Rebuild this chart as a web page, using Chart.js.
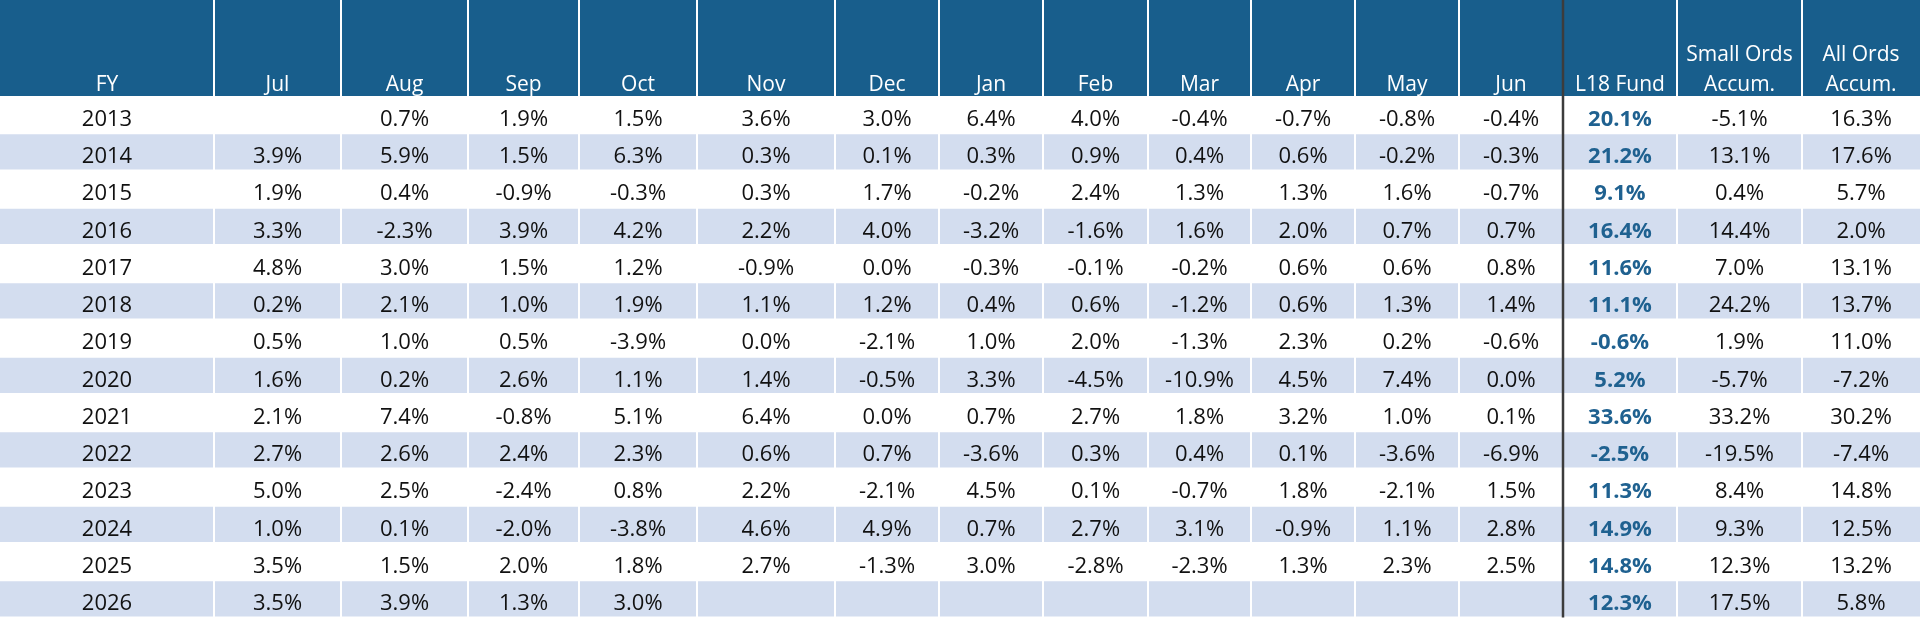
<!DOCTYPE html>
<html>
<head>
<meta charset="utf-8">
<script src="https://cdn.jsdelivr.net/npm/chart.js@4.4.1/dist/chart.umd.min.js"></script>
<style>
  html, body { margin: 0; padding: 0; background: #fff; }
  #wrap { width: 1920px; height: 630px; }
</style>
</head>
<body>
<div id="wrap"><canvas id="table" width="1920" height="630"></canvas></div>
<script>
// rows and column headings
const years = ['2013', '2014', '2015', '2016', '2017', '2018', '2019', '2020', '2021', '2022', '2023', '2024', '2025', '2026'];
const headings = [['FY'], ['Jul'], ['Aug'], ['Sep'], ['Oct'], ['Nov'], ['Dec'], ['Jan'], ['Feb'], ['Mar'], ['Apr'], ['May'], ['Jun'],
  ['L18 Fund'], ['Small Ords', 'Accum.'], ['All Ords', 'Accum.']];

// monthly returns (%), one array per month, one value per FY
const jul = [null, 3.9, 1.9, 3.3, 4.8, 0.2, 0.5, 1.6, 2.1, 2.7, 5.0, 1.0, 3.5, 3.5];
const aug = [0.7, 5.9, 0.4, -2.3, 3.0, 2.1, 1.0, 0.2, 7.4, 2.6, 2.5, 0.1, 1.5, 3.9];
const sep = [1.9, 1.5, -0.9, 3.9, 1.5, 1.0, 0.5, 2.6, -0.8, 2.4, -2.4, -2.0, 2.0, 1.3];
const oct = [1.5, 6.3, -0.3, 4.2, 1.2, 1.9, -3.9, 1.1, 5.1, 2.3, 0.8, -3.8, 1.8, 3.0];
const nov = [3.6, 0.3, 0.3, 2.2, -0.9, 1.1, 0.0, 1.4, 6.4, 0.6, 2.2, 4.6, 2.7, null];
const dec = [3.0, 0.1, 1.7, 4.0, 0.0, 1.2, -2.1, -0.5, 0.0, 0.7, -2.1, 4.9, -1.3, null];
const jan = [6.4, 0.3, -0.2, -3.2, -0.3, 0.4, 1.0, 3.3, 0.7, -3.6, 4.5, 0.7, 3.0, null];
const feb = [4.0, 0.9, 2.4, -1.6, -0.1, 0.6, 2.0, -4.5, 2.7, 0.3, 0.1, 2.7, -2.8, null];
const mar = [-0.4, 0.4, 1.3, 1.6, -0.2, -1.2, -1.3, -10.9, 1.8, 0.4, -0.7, 3.1, -2.3, null];
const apr = [-0.7, 0.6, 1.3, 2.0, 0.6, 0.6, 2.3, 4.5, 3.2, 0.1, 1.8, -0.9, 1.3, null];
const may = [-0.8, -0.2, 1.6, 0.7, 0.6, 1.3, 0.2, 7.4, 1.0, -3.6, -2.1, 1.1, 2.3, null];
const jun = [-0.4, -0.3, -0.7, 0.7, 0.8, 1.4, -0.6, 0.0, 0.1, -6.9, 1.5, 2.8, 2.5, null];

// yearly totals (%)
const l18Fund = [20.1, 21.2, 9.1, 16.4, 11.6, 11.1, -0.6, 5.2, 33.6, -2.5, 11.3, 14.9, 14.8, 12.3];
const smallOrds = [-5.1, 13.1, 0.4, 14.4, 7.0, 24.2, 1.9, -5.7, 33.2, -19.5, 8.4, 9.3, 12.3, 17.5];
const allOrds = [16.3, 17.6, 5.7, 2.0, 13.1, 13.7, 11.0, -7.2, 30.2, -7.4, 14.8, 12.5, 13.2, 5.8];

const columns = [years, jul, aug, sep, oct, nov, dec, jan, feb, mar, apr, may, jun, l18Fund, smallOrds, allOrds];

// layout
const colWidths = [214, 127, 127, 111, 118, 138, 104, 104, 105, 103, 104, 104, 104, 114, 125, 118];
const FUND_COL = 13;
const HEADER_H = 96;
const HEAD_BLUE = '#185e8c';
const STRIPE = '#d3ddef';
const FUND_TEXT = '#1f6190';
const FONT = '"Open Sans", "Noto Sans", sans-serif';

const edges = [0];
colWidths.forEach(w => edges.push(edges[edges.length - 1] + w));

function fmt(v) {
  if (v === null || v === undefined) return '';
  if (typeof v === 'string') return v;
  return v.toFixed(1) + '%';
}

const tablePlugin = {
  id: 'tablePlugin',
  afterDraw(chart) {
    const ctx = chart.ctx;
    const x = chart.scales.x;
    const y = chart.scales.y;
    const rowH = (y.bottom - y.top) / years.length;
    const xs = edges.map(e => x.getPixelForValue(e));

    ctx.save();

    // header band
    ctx.fillStyle = HEAD_BLUE;
    ctx.fillRect(xs[0], 0, xs[xs.length - 1] - xs[0], y.top);

    // striped rows
    ctx.fillStyle = STRIPE;
    years.forEach((yr, i) => {
      if (i % 2 === 0) return;
      const cy = y.getPixelForValue(i);
      for (let c = 0; c < colWidths.length; c++) {
        const l = c === 0 ? xs[c] : xs[c] + 1;
        const r = c === colWidths.length - 1 ? xs[c + 1] : xs[c + 1] - 1;
        ctx.fillRect(l, cy - rowH / 2 + 1, r - l, rowH - 2);
      }
    });

    // white separators in header
    ctx.strokeStyle = '#ffffff';
    ctx.lineWidth = 2;
    for (let c = 1; c < colWidths.length; c++) {
      if (c === FUND_COL) continue;
      ctx.beginPath();
      ctx.moveTo(xs[c], 0);
      ctx.lineTo(xs[c], y.top);
      ctx.stroke();
    }

    // dark rule before the fund column
    ctx.strokeStyle = '#3c3c3c';
    ctx.lineWidth = 2.5;
    ctx.beginPath();
    ctx.moveTo(xs[FUND_COL], 0);
    ctx.lineTo(xs[FUND_COL], y.bottom);
    ctx.stroke();

    // header text
    ctx.fillStyle = '#ffffff';
    ctx.font = '21px ' + FONT;
    ctx.textAlign = 'center';
    ctx.textBaseline = 'alphabetic';
    headings.forEach((lines, c) => {
      const cx = (xs[c] + xs[c + 1]) / 2;
      const base = y.top - 5;
      lines.forEach((t, k) => {
        ctx.fillText(t, cx, base - (lines.length - 1 - k) * 30);
      });
    });

    // body text, bottom aligned like the spreadsheet cells
    ctx.textBaseline = 'alphabetic';
    columns.forEach((vals, c) => {
      const cx = (xs[c] + xs[c + 1]) / 2;
      if (c === FUND_COL) {
        ctx.font = 'bold 22px ' + FONT;
        ctx.fillStyle = FUND_TEXT;
      } else {
        ctx.font = '22px ' + FONT;
        ctx.fillStyle = '#111111';
      }
      vals.forEach((v, i) => {
        ctx.fillText(fmt(v), cx, y.getPixelForValue(i) + rowH / 2 - 7.5);
      });
    });

    ctx.restore();
  }
};

new Chart(document.getElementById('table'), {
  type: 'bar',
  data: { labels: years, datasets: [] },
  options: {
    indexAxis: 'y',
    responsive: false,
    animation: false,
    devicePixelRatio: 1,
    layout: { padding: { top: HEADER_H, bottom: 12.5, left: 0, right: 0 } },
    plugins: { legend: { display: false }, tooltip: { enabled: false } },
    scales: {
      x: { type: 'linear', min: 0, max: edges[edges.length - 1], display: false },
      y: { type: 'category', offset: true, display: false }
    }
  },
  plugins: [tablePlugin]
});
</script>
</body>
</html>
